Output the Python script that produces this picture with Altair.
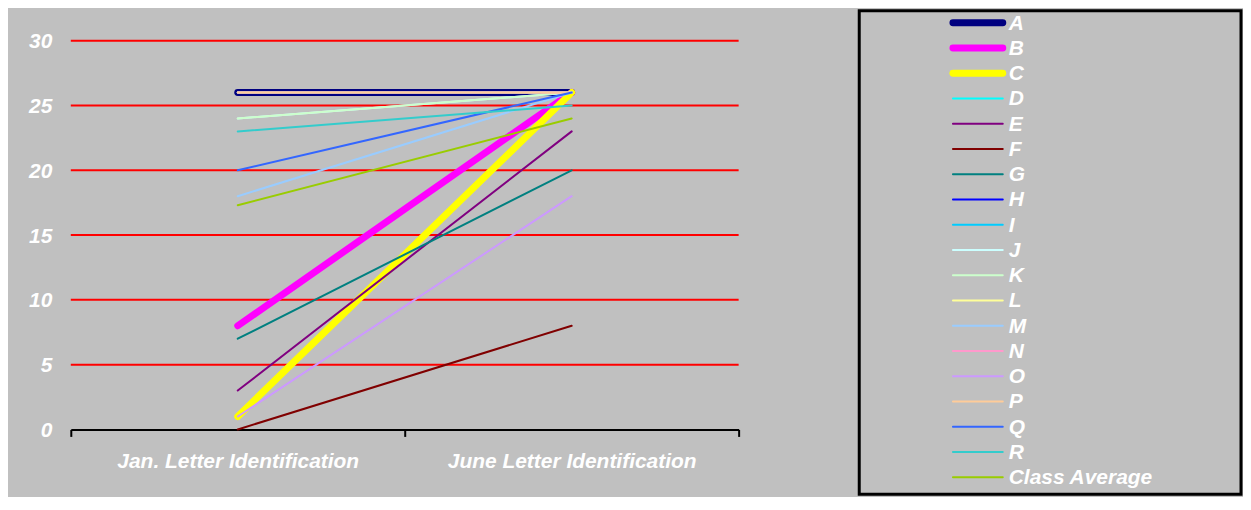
import altair as alt
import pandas as pd

# ---------------- data ----------------
periods = ["Jan. Letter Identification", "June Letter Identification"]
students = ["A", "B", "C", "D", "E", "F", "G", "H", "I", "J", "K", "L",
            "M", "N", "O", "P", "Q", "R", "Class Average"]
jan_scores = [26, 8, 1, 26, 3, 0, 7, 26, 26, 24, 24, 26, 18, 26, 1, 26, 20, 23, 17.3]
june_scores = [26, 26, 26, 26, 23, 8, 20, 26, 26, 26, 26, 26, 26, 26, 18, 26, 26, 25, 24]
y_ticks = [0, 5, 10, 15, 20, 25, 30]
grid_values = [5, 10, 15, 20, 25, 30]

# ---------------- styles ----------------
colors = ["#000080", "#FF00FF", "#FFFF00", "#00FFFF", "#800080", "#800000",
          "#008080", "#0000FF", "#00CCFF", "#CCFFFF", "#CCFFCC", "#FFFF99",
          "#99CCFF", "#FF99CC", "#CC99FF", "#FFCC99", "#3366FF", "#33CCCC",
          "#99CC00"]
widths = [7, 7, 7] + [2] * 16
FONT = "Liberation Sans"
BG = "#C0C0C0"

PLOT_W, PLOT_H = 670, 420
Y_MAX = PLOT_H / 13.0  # 30 sits 390px above the baseline

rows = []
for s, j, u in zip(students, jan_scores, june_scores):
    rows.append({"student": s, "period": periods[0], "score": j})
    rows.append({"student": s, "period": periods[1], "score": u})
df = pd.DataFrame(rows)

x_enc = alt.X(
    "period:N",
    sort=periods,
    bandPosition=0.5,
    scale=alt.Scale(type="band", domain=periods, paddingInner=0, paddingOuter=0),
    axis=alt.Axis(title=None, tickBand="extent", grid=False,
                  domainColor="black", domainWidth=2,
                  tickColor="black", tickWidth=2, tickSize=7,
                  labelPadding=14, labelAngle=0, labelLimit=500, labelFont=FONT,
                  labelFontSize=21, labelFontWeight="bold",
                  labelFontStyle="italic", labelColor="white"),
)
y_scale = alt.Scale(domain=[0, Y_MAX], nice=False, zero=True)
y_enc = alt.Y(
    "score:Q",
    scale=y_scale,
    axis=alt.Axis(title=None, values=y_ticks, domain=False, ticks=False,
                  grid=False, labelPadding=19, labelFont=FONT,
                  labelFontSize=21, labelFontWeight="bold",
                  labelFontStyle="italic", labelColor="white", labelOffset=1),
)

grid = alt.Chart(pd.DataFrame({"score": grid_values})).mark_rule(
    color="#FF0000", strokeWidth=2
).encode(y=y_enc)

layers = [grid]
for s, c, w in zip(students, colors, widths):
    layers.append(
        alt.Chart(df[df["student"] == s]).mark_line(
            color=c, strokeWidth=w, strokeCap="round", strokeJoin="round"
        ).encode(x=x_enc, y=y_enc)
    )
main = alt.layer(*layers).properties(width=PLOT_W, height=PLOT_H)

# ---------------- legend panel ----------------
LEG_W, LEG_H = 383, 485
ROW0, STEP = 12, 25.33
leg_df = pd.DataFrame({"student": students, "idx": list(range(len(students)))})
leg_y = alt.Y("idx:Q", axis=None,
              scale=alt.Scale(domain=[-ROW0 / STEP, (LEG_H - ROW0) / STEP],
                              reverse=True, nice=False, zero=False))

box = alt.Chart(pd.DataFrame({"k": [0]})).mark_rect(
    fill=BG, stroke="black", strokeWidth=3
).encode(x=alt.value(0), x2=alt.value(LEG_W), y=alt.value(0), y2=alt.value(LEG_H))

leg_layers = [box]
for i, (s, c, w) in enumerate(zip(students, colors, widths)):
    leg_layers.append(
        alt.Chart(leg_df[leg_df["student"] == s]).mark_rule(
            color=c, strokeWidth=w, strokeCap="round"
        ).encode(x=alt.value(94), x2=alt.value(144), y=leg_y)
    )
labels = alt.Chart(leg_df).mark_text(
    align="left", baseline="middle", font=FONT, fontSize=21,
    fontWeight="bold", fontStyle="italic", color="white", dy=1
).encode(x=alt.value(150), y=leg_y, text="student:N")
leg_layers.append(labels)

legend = alt.layer(*leg_layers).properties(width=LEG_W, height=LEG_H)

chart = alt.hconcat(main, legend, spacing=117).resolve_scale(
    x="independent", y="independent"
).properties(
    padding={"left": 20, "top": 0, "right": 0, "bottom": 0}
).configure(background=BG).configure_view(stroke="transparent")

chart.save("out.html", embed_options={"renderer": "svg", "actions": False})
